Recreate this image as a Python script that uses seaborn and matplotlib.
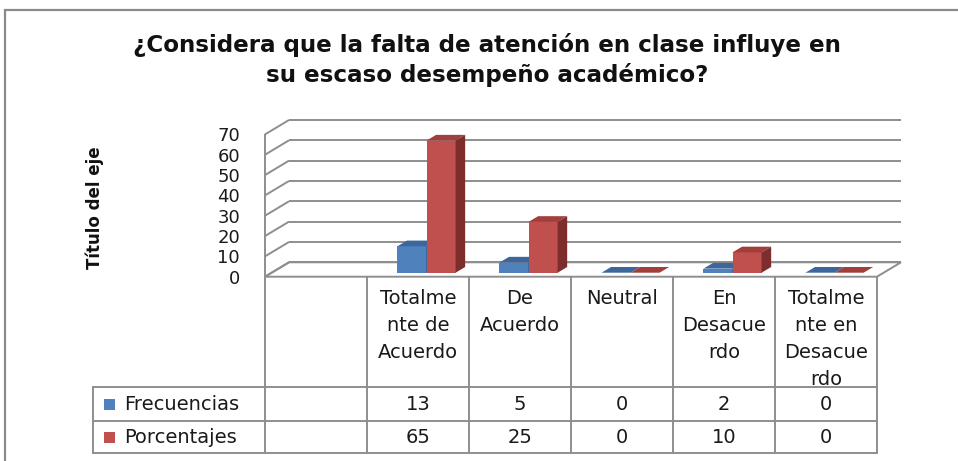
import numpy as np
import pandas as pd
import matplotlib
matplotlib.use("Agg")
import matplotlib.pyplot as plt
import matplotlib.transforms as mtransforms
from matplotlib.patches import Polygon, Rectangle
import seaborn as sns

# Datos de la encuesta
TITULO = "¿Considera que la falta de atención en clase influye en\nsu escaso desempeño académico?"
TITULO_EJE = "Título del eje"
categorias = ["", "Totalmente de Acuerdo", "De Acuerdo", "Neutral",
              "En Desacuerdo", "Totalmente en Desacuerdo"]
series = ["Frecuencias", "Porcentajes"]
frecuencias = [None, 13, 5, 0, 2, 0]
porcentajes = [None, 65, 25, 0, 10, 0]
yticks = [0, 10, 20, 30, 40, 50, 60, 70]

colores = {"Frecuencias": "#4F81BD", "Porcentajes": "#C0504D"}
colores_top = {"Frecuencias": "#3D679C", "Porcentajes": "#A23E3B"}
colores_lado = {"Frecuencias": "#2F5283", "Porcentajes": "#7D2E2C"}
GRIS = "#8E8E8E"

sns.set_theme(style="white")
plt.rcParams["font.family"] = ["DejaVu Sans"]


def partir(texto, ancho=7):
    # corta como Excel: palabras enteras si caben, si no se parten
    lineas, actual = [], ""
    for palabra in texto.split():
        if actual and len(actual) + 1 + len(palabra) <= ancho:
            actual += " " + palabra
            continue
        if actual:
            lineas.append(actual)
        while len(palabra) > ancho:
            lineas.append(palabra[:ancho])
            palabra = palabra[ancho:]
        actual = palabra
    if actual:
        lineas.append(actual)
    return "\n".join(lineas)


W, H = 958, 461
fig = plt.figure(figsize=(W / 100, H / 100), dpi=100)

# plano frontal del grafico en pixeles
X0, X1 = 265, 877
Y0, Y70 = 276.7, 134.4
ax = fig.add_axes([X0 / W, 1 - Y0 / H, (X1 - X0) / W, (Y0 - Y70) / H])

filas = []
for cat, f, p in zip(categorias, frecuencias, porcentajes):
    if f is None:
        continue
    filas.append({"categoria": cat, "serie": "Frecuencias", "valor": f})
    filas.append({"categoria": cat, "serie": "Porcentajes", "valor": p})
df = pd.DataFrame(filas)

sns.barplot(data=df, x="categoria", y="valor", hue="serie", order=categorias,
            hue_order=series, palette=colores, saturation=1, width=0.57,
            legend=False, ax=ax, linewidth=0, zorder=5)

ax.set_xlim(-0.5, len(categorias) - 0.5)
ax.set_ylim(0, 70)
ax.set_yticks(yticks)
ax.set_yticklabels([str(t) for t in yticks], fontsize=13, color="#1a1a1a")
ax.tick_params(axis="y", length=0, pad=18)
ax.set_xticks([])
ax.set_xlabel("")
ax.set_ylabel("")
for s in ax.spines.values():
    s.set_visible(False)
ax.patch.set_alpha(0)
fig.canvas.draw()

PROF = np.array([24.0, 14.4])      # profundidad del piso/paredes (px)
BAR_OFF = np.array([8.5, 4.0])     # posicion de las barras dentro del piso
BAR_PROF = np.array([9.6, 5.7])    # profundidad de cada barra


def mover(x, y, d):
    px = ax.transData.transform((x, y)) + d
    return ax.transData.inverted().transform(px)


def linea(p, q, **kw):
    ax.plot([p[0], q[0]], [p[1], q[1]], color=GRIS, lw=1.4, clip_on=False,
            solid_capstyle="butt", **kw)


xa, xb = ax.get_xlim()
# piso
piso = [mover(xa, 0, 0), mover(xb, 0, 0), mover(xb, 0, PROF), mover(xa, 0, PROF)]
ax.add_patch(Polygon(piso, closed=True, facecolor="white", edgecolor=GRIS,
                     lw=1.4, clip_on=False, zorder=1))
# paredes: lineas de division
for t in yticks:
    linea(mover(xa, t, 0), mover(xa, t, PROF), zorder=2)
    linea(mover(xa, t, PROF), mover(xb, t, PROF), zorder=2)
linea(mover(xa, 0, 0), mover(xa, 70, 0), zorder=2)

# barras con caras superior y lateral
barras = sorted([p for p in ax.patches if isinstance(p, Rectangle)],
                key=lambda p: p.get_x())
azul = matplotlib.colors.to_rgb(colores["Frecuencias"])
z = 5
for p in barras:
    x0, w, h = p.get_x(), p.get_width(), p.get_height()
    serie = "Frecuencias" if np.allclose(p.get_facecolor()[:3], azul) else "Porcentajes"
    p.set_transform(mtransforms.offset_copy(ax.transData, fig=fig, x=BAR_OFF[0],
                                            y=BAR_OFF[1], units="dots"))
    p.set_zorder(z)
    p.set_clip_on(False)
    top = [mover(x0, h, BAR_OFF), mover(x0 + w, h, BAR_OFF),
           mover(x0 + w, h, BAR_OFF + BAR_PROF), mover(x0, h, BAR_OFF + BAR_PROF)]
    lado = [mover(x0 + w, 0, BAR_OFF), mover(x0 + w, h, BAR_OFF),
            mover(x0 + w, h, BAR_OFF + BAR_PROF), mover(x0 + w, 0, BAR_OFF + BAR_PROF)]
    ax.add_patch(Polygon(top, closed=True, facecolor=colores_top[serie], lw=0,
                         clip_on=False, zorder=z))
    ax.add_patch(Polygon(lado, closed=True, facecolor=colores_lado[serie], lw=0,
                         clip_on=False, zorder=z))
    z += 1

# tabla de datos
fila_tops = [276.7, 387.3, 421.3, 453.3]
LEY_X = 92.7
bt = mtransforms.blended_transform_factory(ax.transData, fig.transFigure)
yf = lambda py: 1 - py / H
leyx = ax.transData.inverted().transform((LEY_X, 0))[0]
for i in range(len(categorias) + 1):
    xc = xa + i
    ax.plot([xc, xc], [yf(fila_tops[0]), yf(fila_tops[-1])], color=GRIS, lw=1.4,
            transform=bt, clip_on=False)
ax.plot([leyx, leyx], [yf(fila_tops[1]), yf(fila_tops[-1])], color=GRIS, lw=1.4,
        transform=bt, clip_on=False)
for ty in fila_tops[1:]:
    ax.plot([leyx, xb], [yf(ty), yf(ty)], color=GRIS, lw=1.4, transform=bt, clip_on=False)

for i, cat in enumerate(categorias):
    if cat:
        ax.text(i, yf(fila_tops[0] + 12), partir(cat),
                transform=bt, ha="center", va="top", fontsize=14,
                linespacing=1.55, color="#1a1a1a")
    for j, vals in enumerate([frecuencias, porcentajes]):
        if vals[i] is not None:
            yc = (fila_tops[j + 1] + fila_tops[j + 2]) / 2
            ax.text(i, yf(yc), str(vals[i]), transform=bt, ha="center",
                    va="center", fontsize=14, color="#1a1a1a")

for j, s in enumerate(series):
    yc = (fila_tops[j + 1] + fila_tops[j + 2]) / 2
    fig.patches.append(Rectangle((104 / W, yf(yc + 5.5)), 11 / W, 11 / H,
                                 transform=fig.transFigure, facecolor=colores[s],
                                 lw=0))
    fig.text(124 / W, yf(yc), s, ha="left", va="center", fontsize=14, color="#1a1a1a")

# titulos
fig.text(487 / W, yf(60), TITULO, ha="center", va="center", fontsize=16.6,
         fontweight="bold", linespacing=1.3, color="#111111")
fig.text(95 / W, yf(208), TITULO_EJE, ha="center", va="center", rotation=90,
         fontsize=12, fontweight="bold", color="#111111")

# borde del area del grafico
fig.patches.append(Rectangle((5 / W, -0.1), 1.2, yf(10) + 0.1,
                             transform=fig.transFigure, facecolor="none",
                             edgecolor="#8A8A8A", lw=1.6))

fig.savefig("out.png", dpi=100)
